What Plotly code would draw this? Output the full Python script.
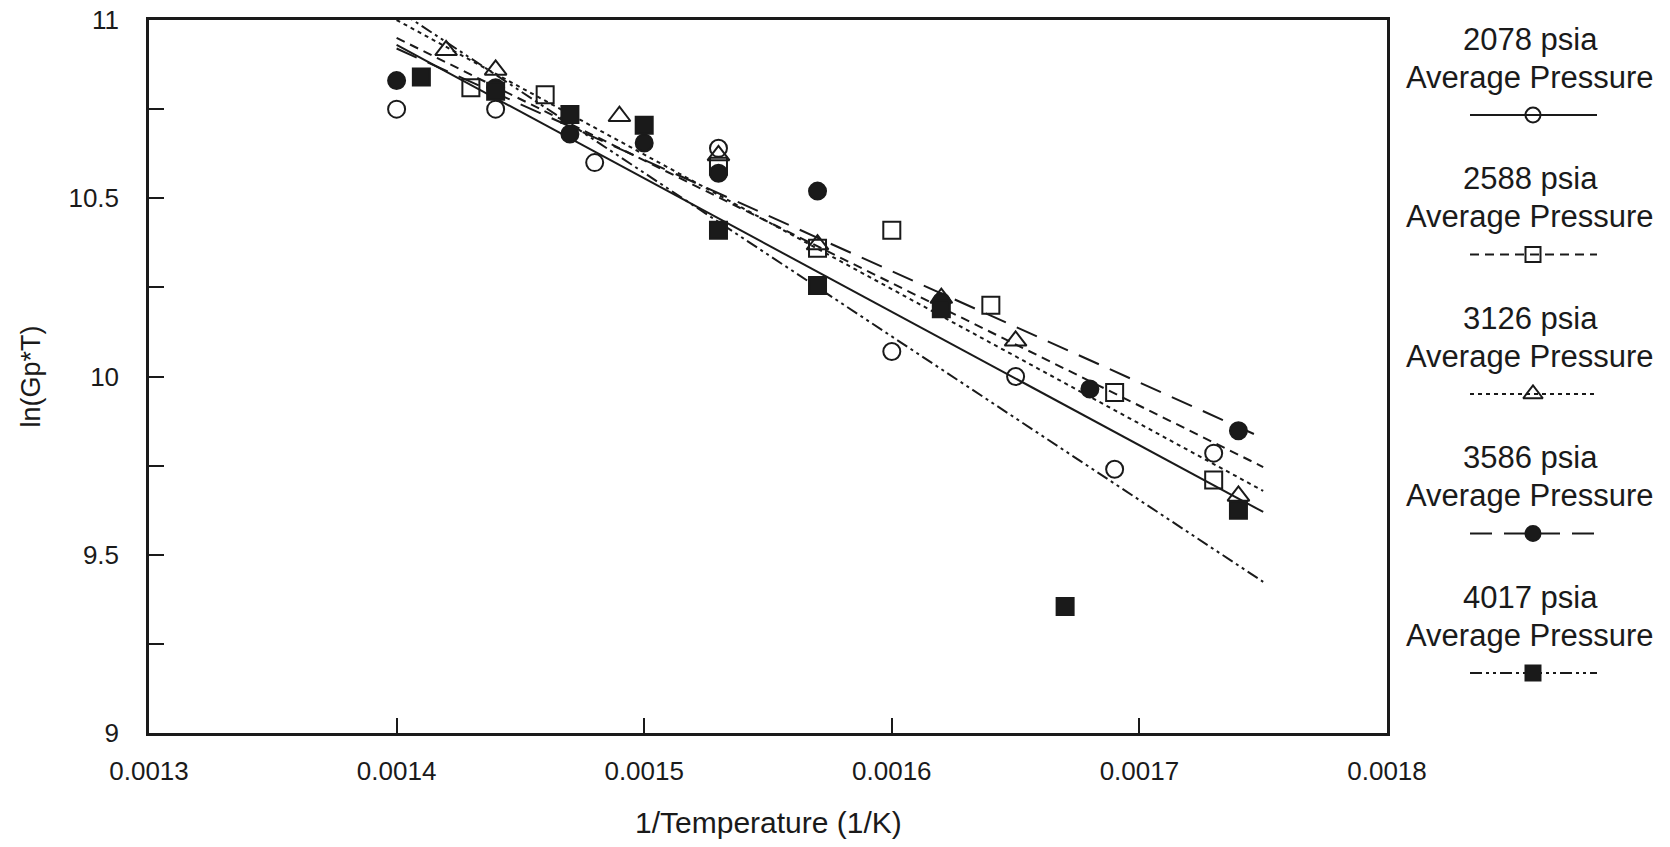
import plotly.graph_objects as go

# ---------------- data ----------------
x_2078 = [0.00140, 0.00144, 0.00148, 0.00153, 0.00160, 0.00165, 0.00169, 0.00173]
y_2078 = [10.75, 10.75, 10.60, 10.64, 10.07, 10.00, 9.74, 9.785]

x_2588 = [0.00143, 0.00146, 0.00153, 0.00157, 0.00160, 0.00164, 0.00169, 0.00173]
y_2588 = [10.81, 10.79, 10.59, 10.36, 10.41, 10.20, 9.955, 9.71]

x_3126 = [0.00142, 0.00144, 0.00149, 0.00153, 0.00157, 0.00162, 0.00165, 0.00174]
y_3126 = [10.915, 10.86, 10.73, 10.62, 10.37, 10.22, 10.10, 9.665]

x_3586 = [0.00140, 0.00144, 0.00147, 0.00150, 0.00153, 0.00157, 0.00162, 0.00168, 0.00174]
y_3586 = [10.83, 10.81, 10.68, 10.655, 10.57, 10.52, 10.21, 9.965, 9.848]

x_4017 = [0.00141, 0.00144, 0.00147, 0.00150, 0.00153, 0.00157, 0.00162, 0.00167, 0.00174]
y_4017 = [10.84, 10.80, 10.735, 10.705, 10.41, 10.255, 10.19, 9.355, 9.625]

# fitted lines (end points)
fit_x = [0.00140, 0.00175]
fit_2078 = [10.93, 9.62]
fit_2588 = [10.95, 9.746]
fit_3126 = [11.00, 9.679]
fit_3586 = [10.92, 9.827]
fit_4017 = [11.03, 9.424]

series_names = ["2078 psia", "2588 psia", "3126 psia", "3586 psia", "4017 psia"]
sub_label = "Average Pressure"

x_ticks = [0.0013, 0.0014, 0.0015, 0.0016, 0.0017, 0.0018]

# ---------------- styling ----------------
FONT = "Liberation Sans, Arial, Helvetica, sans-serif"
INK = "#1a1a1a"
W, H = 1670, 847
ML, MR, MT, MB = 149, 0, 20, 114
PW = W - ML - MR
PLOT_RIGHT = 1387
main_dom_end = (PLOT_RIGHT - ML) / PW
leg_dom_start = 0.82
leg_px0 = ML + leg_dom_start * PW

styles = [
    dict(x=x_2078, y=y_2078, fit=fit_2078, symbol="circle-open", dash="solid"),
    dict(x=x_2588, y=y_2588, fit=fit_2588, symbol="square-open", dash="9px,6px"),
    dict(x=x_3126, y=y_3126, fit=fit_3126, symbol="triangle-up-open", dash="4px,4px"),
    dict(x=x_3586, y=y_3586, fit=fit_3586, symbol="circle", dash="22px,12px"),
    dict(x=x_4017, y=y_4017, fit=fit_4017, symbol="square", dash="12px,4px,3px,4px,3px,4px"),
]

fig = go.Figure()

# fitted lines first
for s, name in zip(styles, series_names):
    fig.add_trace(go.Scatter(
        x=fit_x, y=s["fit"], mode="lines",
        line=dict(color=INK, width=2, dash=s["dash"]),
        showlegend=False, hoverinfo="skip", name=name + " fit"))

# data markers
for s, name in zip(styles, series_names):
    size = 19 if "triangle" in s["symbol"] else 17
    fig.add_trace(go.Scatter(
        x=s["x"], y=s["y"], mode="markers", name=name,
        marker=dict(symbol=s["symbol"], size=size, color=INK,
                    line=dict(color=INK, width=2)),
        showlegend=False, cliponaxis=False))

# custom legend drawn on an auxiliary pixel-scaled axis pair
leg_step = 139.5
leg_line_x0, leg_line_x1, leg_cx = 1470, 1597, 1533
for i, (s, name) in enumerate(zip(styles, series_names)):
    yl = 115 + i * leg_step
    fig.add_trace(go.Scatter(
        x=[leg_line_x0, leg_line_x1], y=[yl, yl], mode="lines",
        line=dict(color=INK, width=2, dash=s["dash"]),
        xaxis="x2", yaxis="y2", showlegend=False, hoverinfo="skip"))
    size = 17 if "triangle" in s["symbol"] else 15
    fig.add_trace(go.Scatter(
        x=[leg_cx], y=[yl], mode="markers",
        marker=dict(symbol=s["symbol"], size=size, color=INK,
                    line=dict(color=INK, width=2)),
        xaxis="x2", yaxis="y2", showlegend=False, hoverinfo="skip"))
    fig.add_annotation(x=leg_cx - 3, y=39 + i * leg_step, xref="x2", yref="y2",
                       text=name, showarrow=False,
                       font=dict(family=FONT, size=31, color=INK))
    fig.add_annotation(x=leg_cx - 3, y=77 + i * leg_step, xref="x2", yref="y2",
                       text=sub_label, showarrow=False,
                       font=dict(family=FONT, size=31, color=INK))

# axis titles
fig.add_annotation(x=(0.0013 + 0.0018) / 2, y=-0.152, xref="x", yref="paper",
                   text="1/Temperature (1/K)", showarrow=False,
                   font=dict(family=FONT, size=30, color=INK))
fig.add_annotation(x=0, y=10, xref="paper", yref="y", xanchor="center",
                   xshift=30 - ML, text="ln(Gp*T)", textangle=-90,
                   showarrow=False, font=dict(family=FONT, size=27, color=INK))

fig.update_layout(
    width=W, height=H,
    margin=dict(l=ML, r=MR, t=MT, b=MB, autoexpand=False),
    paper_bgcolor="white", plot_bgcolor="white",
    font=dict(family=FONT, color=INK),
    showlegend=False,
    xaxis=dict(
        domain=[0, main_dom_end], range=[0.0013, 0.0018],
        tickvals=x_ticks, tickformat=".4f", automargin=False,
        ticks="inside", ticklen=15, tickwidth=1.5, tickcolor=INK,
        showline=True, linecolor=INK, linewidth=2.5, mirror=True,
        showgrid=False, zeroline=False,
        tickfont=dict(family=FONT, size=26, color=INK),
        ticklabelstandoff=13,
    ),
    yaxis=dict(
        range=[9, 11], dtick=0.5, automargin=False,
        ticks="inside", ticklen=15, tickwidth=1.5, tickcolor=INK,
        minor=dict(dtick=0.25, ticks="inside", ticklen=15, tickwidth=1.5, tickcolor=INK, showgrid=False),
        showline=True, linecolor=INK, linewidth=2.5, mirror=True,
        showgrid=False, zeroline=False,
        tickfont=dict(family=FONT, size=26, color=INK),
        ticklabelstandoff=22,
    ),
    xaxis2=dict(domain=[leg_dom_start, 1.0], range=[leg_px0, W], visible=False,
                anchor="y2", fixedrange=True, automargin=False),
    yaxis2=dict(domain=[0, 1], range=[H - MB, MT], visible=False,
                anchor="x2", fixedrange=True, automargin=False),
)

fig.write_html("out.html")
